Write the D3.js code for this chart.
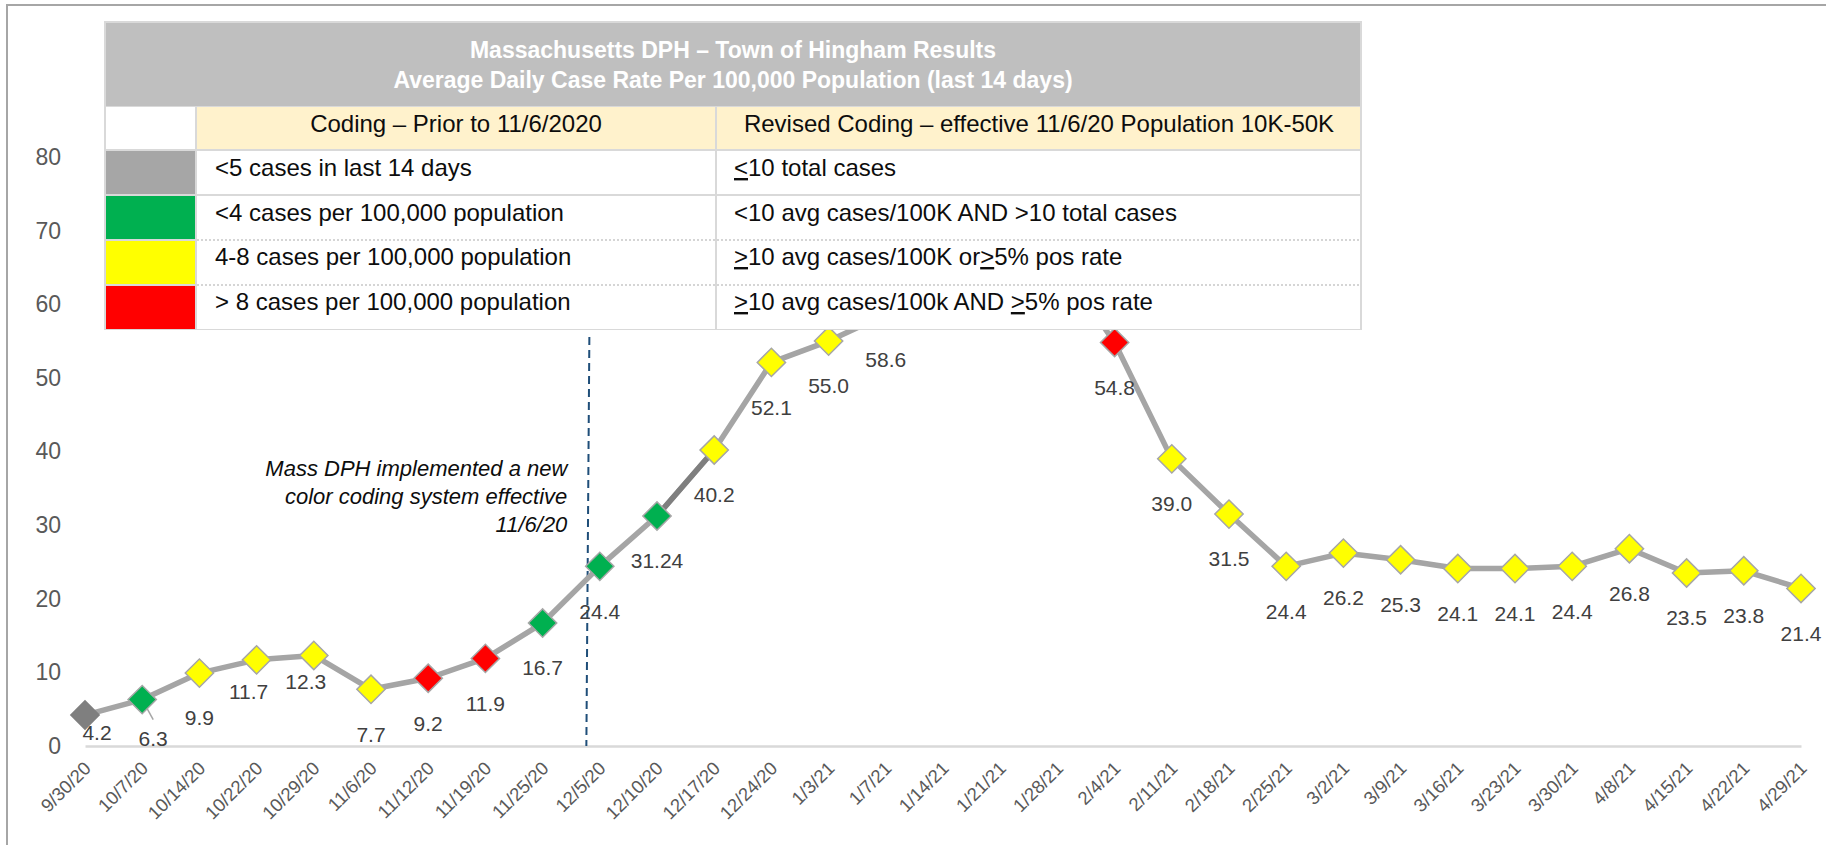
<!DOCTYPE html>
<html><head><meta charset="utf-8">
<script src="https://cdn.jsdelivr.net/npm/d3@7"></script>
<style>
html,body{margin:0;padding:0;background:#fff;}
svg{display:block;font-family:"Liberation Sans",Arial,sans-serif;}
</style></head><body>
<svg id="chart" width="1826" height="845"></svg>
<script>
// ---------------- data ----------------
const categories = ["9/30/20","10/7/20","10/14/20","10/22/20","10/29/20","11/6/20","11/12/20","11/19/20","11/25/20","12/5/20","12/10/20","12/17/20","12/24/20","1/3/21","1/7/21","1/14/21","1/21/21","1/28/21","2/4/21","2/11/21","2/18/21","2/25/21","3/2/21","3/9/21","3/16/21","3/23/21","3/30/21","4/8/21","4/15/21","4/22/21","4/29/21"];
const values = [4.2,6.3,9.9,11.7,12.3,7.7,9.2,11.9,16.7,24.4,31.24,40.2,52.1,55.0,58.6,68.9,71.2,66.0,54.8,39.0,31.5,24.4,26.2,25.3,24.1,24.1,24.4,26.8,23.5,23.8,21.4];
const codes = ["low","green","yellow","yellow","yellow","yellow","red","red","green","green","green","yellow","yellow","yellow","yellow","red","red","red","red","yellow","yellow","yellow","yellow","yellow","yellow","yellow","yellow","yellow","yellow","yellow","yellow"];
const yTicks = [0,10,20,30,40,50,60,70,80];
const tableTitle = ["Massachusetts DPH \u2013 Town of Hingham Results","Average Daily Case Rate Per 100,000 Population (last 14 days)"];
const tableHeaders = ["Coding \u2013 Prior to 11/6/2020","Revised Coding \u2013 effective 11/6/20 Population 10K-50K"];
const legendCodes = ["low","green","yellow","red"];
const priorCoding = ["<5 cases in last 14 days","<4 cases per 100,000 population","4-8 cases per 100,000 population","> 8 cases per 100,000 population"];
const revisedCoding = [
  [{t:"<",u:true},{t:"10 total cases"}],
  [{t:"<10 avg cases/100K AND >10 total cases"}],
  [{t:">",u:true},{t:"10 avg cases/100K or"},{t:">",u:true},{t:"5% pos rate"}],
  [{t:">",u:true},{t:"10 avg cases/100k AND "},{t:">",u:true},{t:"5% pos rate"}]
];
const annotationLines = ["Mass DPH implemented a new","color coding system effective","11/6/20"];
const changeBetween = ["11/25/20","12/5/20"];

// ---------------- styles ----------------
const pointFill = {low:"#7f7f7f",green:"#00b050",yellow:"#ffff00",red:"#ff0000"};
const legendFill = {low:"#a6a6a6",green:"#00b050",yellow:"#ffff00",red:"#ff0000"};
const darkSegmentStart = [10];          // segment drawn darker (12/10 -> 12/17)
const labelNudge = {0:[12,-27],1:[11,-6],3:[-8,-13],4:[-8,-19]};
const fmt = v => (Math.round(v*10)/10 === v ? v.toFixed(1) : String(v));

const svg = d3.select("#chart");
const x = d3.scalePoint().domain(categories).range([85,1801]);
const y = d3.scaleLinear().domain([0,80]).range([746,157]);
const T = {x0:104,x1:1362,y0:21,y1:330,cCol:196,div:716};

// chart area border
svg.append("path").attr("d","M7,845V5H1826").attr("fill","none").attr("stroke","#a6a6a6").attr("stroke-width",2);

// y axis
const gy = svg.append("g").attr("transform","translate(66,0)")
  .call(d3.axisLeft(y).tickValues(yTicks).tickSize(0).tickPadding(5).tickFormat(d3.format("d")));
gy.select(".domain").remove();
gy.selectAll("text").attr("font-size",23).attr("fill","#595959").attr("font-family","Liberation Sans, Arial, sans-serif");

// x axis
const gx = svg.append("g").attr("transform","translate(0,746)")
  .call(d3.axisBottom(x).tickSize(0).tickSizeOuter(0));
gx.select(".domain").attr("stroke","#d9d9d9").attr("stroke-width",2.5);
gx.selectAll(".tick text")
  .attr("font-size",18.5).attr("fill","#595959").attr("font-family","Liberation Sans, Arial, sans-serif")
  .attr("text-anchor","end").attr("y",0).attr("dy","0.35em")
  .attr("transform","translate(2,19) rotate(-45)");

// annotation dashed line
const xChange = x(changeBetween[0]) + 0.8*(x(changeBetween[1]) - x(changeBetween[0]));
svg.append("line").attr("x1",xChange+1).attr("x2",xChange-2).attr("y1",337).attr("y2",y(0))
  .attr("stroke","#1f4e79").attr("stroke-width",2).attr("stroke-dasharray","8,5");

// annotation text
const ann = svg.append("text").attr("text-anchor","end").attr("font-size",22).attr("font-style","italic").attr("fill","#0d0d0d");
annotationLines.forEach((t,i)=>{
  ann.append("tspan").attr("x",xChange-21).attr("y",476+i*28).text(t);
});

// data line
const pts = values.map((v,i)=>({c:categories[i],v,code:codes[i],i}));
const line = d3.line().x(d=>x(d.c)).y(d=>y(d.v));
svg.append("path").datum(pts).attr("d",line).attr("fill","none")
  .attr("stroke","#a5a5a5").attr("stroke-width",5.5).attr("stroke-linejoin","round");
darkSegmentStart.forEach(s=>{
  svg.append("path").datum(pts.slice(s,s+2)).attr("d",line).attr("fill","none")
    .attr("stroke","#7f7f7f").attr("stroke-width",5.5);
});

// leader line for 6.3 label
svg.append("line").attr("x1",x(categories[1])).attr("y1",y(values[1]))
  .attr("x2",x(categories[1])+11).attr("y2",y(values[1])+20)
  .attr("stroke","#a6a6a6").attr("stroke-width",1.5);

// markers
const sym = d3.symbol().type(d3.symbolSquare).size(400);
svg.append("g").selectAll("path").data(pts).join("path")
  .attr("d",sym)
  .attr("transform",d=>`translate(${x(d.c)},${y(d.v)}) rotate(45)`)
  .attr("fill",d=>pointFill[d.code])
  .attr("stroke",d=>d.code==="low"?"#7f7f7f":"#a6a6a6").attr("stroke-width",1.5);

// data labels (labels that would sit under the table overlay are covered in the original)
const lx = d=>x(d.c)+(labelNudge[d.i]?labelNudge[d.i][0]:0);
const ly = d=>y(d.v)+45+(labelNudge[d.i]?labelNudge[d.i][1]:0);
const visibleLabels = pts.filter(d=>!(lx(d)>T.x0 && lx(d)<T.x1 && ly(d)-8<T.y1));
svg.append("g").selectAll("text").data(visibleLabels).join("text")
  .attr("x",lx).attr("y",ly)
  .attr("dy","0.35em").attr("text-anchor","middle")
  .attr("font-size",21).attr("fill","#404040")
  .text(d=>fmt(d.v));

// ---------------- table overlay ----------------
const rowsY = [[151,194],[196,239],[241,284],[286,329]];
const tb = svg.append("g");
tb.append("rect").attr("x",T.x0).attr("y",T.y0).attr("width",T.x1-T.x0).attr("height",T.y1-T.y0).attr("fill","#d9d9d9");
tb.append("rect").attr("x",T.x0+2).attr("y",T.y0+2).attr("width",T.x1-T.x0-4).attr("height",83).attr("fill","#bfbfbf");
// header row
tb.append("rect").attr("x",T.x0+2).attr("y",107).attr("width",T.cCol-T.x0-3).attr("height",42).attr("fill","#ffffff");
tb.append("rect").attr("x",T.cCol+1).attr("y",107).attr("width",T.div-T.cCol-2).attr("height",42).attr("fill","#fff2cc");
tb.append("rect").attr("x",T.div+1).attr("y",107).attr("width",T.x1-T.div-3).attr("height",42).attr("fill","#fff2cc");
// body rows
rowsY.forEach((r,i)=>{
  tb.append("rect").attr("x",T.x0+2).attr("y",r[0]).attr("width",T.cCol-T.x0-3).attr("height",r[1]-r[0]).attr("fill",legendFill[legendCodes[i]]);
});
tb.append("rect").attr("x",T.cCol+1).attr("y",151).attr("width",T.div-T.cCol-2).attr("height",43).attr("fill","#fff");
tb.append("rect").attr("x",T.div+1).attr("y",151).attr("width",T.x1-T.div-3).attr("height",43).attr("fill","#fff");
tb.append("rect").attr("x",T.cCol+1).attr("y",196).attr("width",T.div-T.cCol-2).attr("height",133).attr("fill","#fff");
tb.append("rect").attr("x",T.div+1).attr("y",196).attr("width",T.x1-T.div-3).attr("height",133).attr("fill","#fff");
[240,285].forEach(yy=>{
  tb.append("line").attr("x1",T.cCol+1).attr("x2",T.x1-2).attr("y1",yy).attr("y2",yy)
    .attr("stroke","#c8c8c8").attr("stroke-width",1.5).attr("stroke-dasharray","2,2");
});
// title
tableTitle.forEach((t,i)=>{
  tb.append("text").attr("x",(T.x0+T.x1)/2).attr("y",58+i*30).attr("text-anchor","middle")
    .attr("font-size",23).attr("font-weight","bold").attr("fill","#ffffff").text(t);
});
// headers
tb.append("text").attr("x",(T.cCol+T.div)/2).attr("y",132).attr("text-anchor","middle").attr("font-size",24).attr("fill","#0d0d0d").text(tableHeaders[0]);
tb.append("text").attr("x",(T.div+T.x1)/2).attr("y",132).attr("text-anchor","middle").attr("font-size",24).attr("fill","#0d0d0d").text(tableHeaders[1]);
// row texts
const baseY = [176,221,265,310];
priorCoding.forEach((t,i)=>{
  tb.append("text").attr("x",215).attr("y",baseY[i]).attr("font-size",24).attr("fill","#0d0d0d").text(t);
});
revisedCoding.forEach((segs,i)=>{
  const tx = tb.append("text").attr("x",734).attr("y",baseY[i]).attr("font-size",24).attr("fill","#0d0d0d").attr("xml:space","preserve");
  segs.forEach(s=>{
    const sp = tx.append("tspan").text(s.t);
    if(s.u) sp.style("text-decoration","underline");
  });
});
</script>
</body></html>
